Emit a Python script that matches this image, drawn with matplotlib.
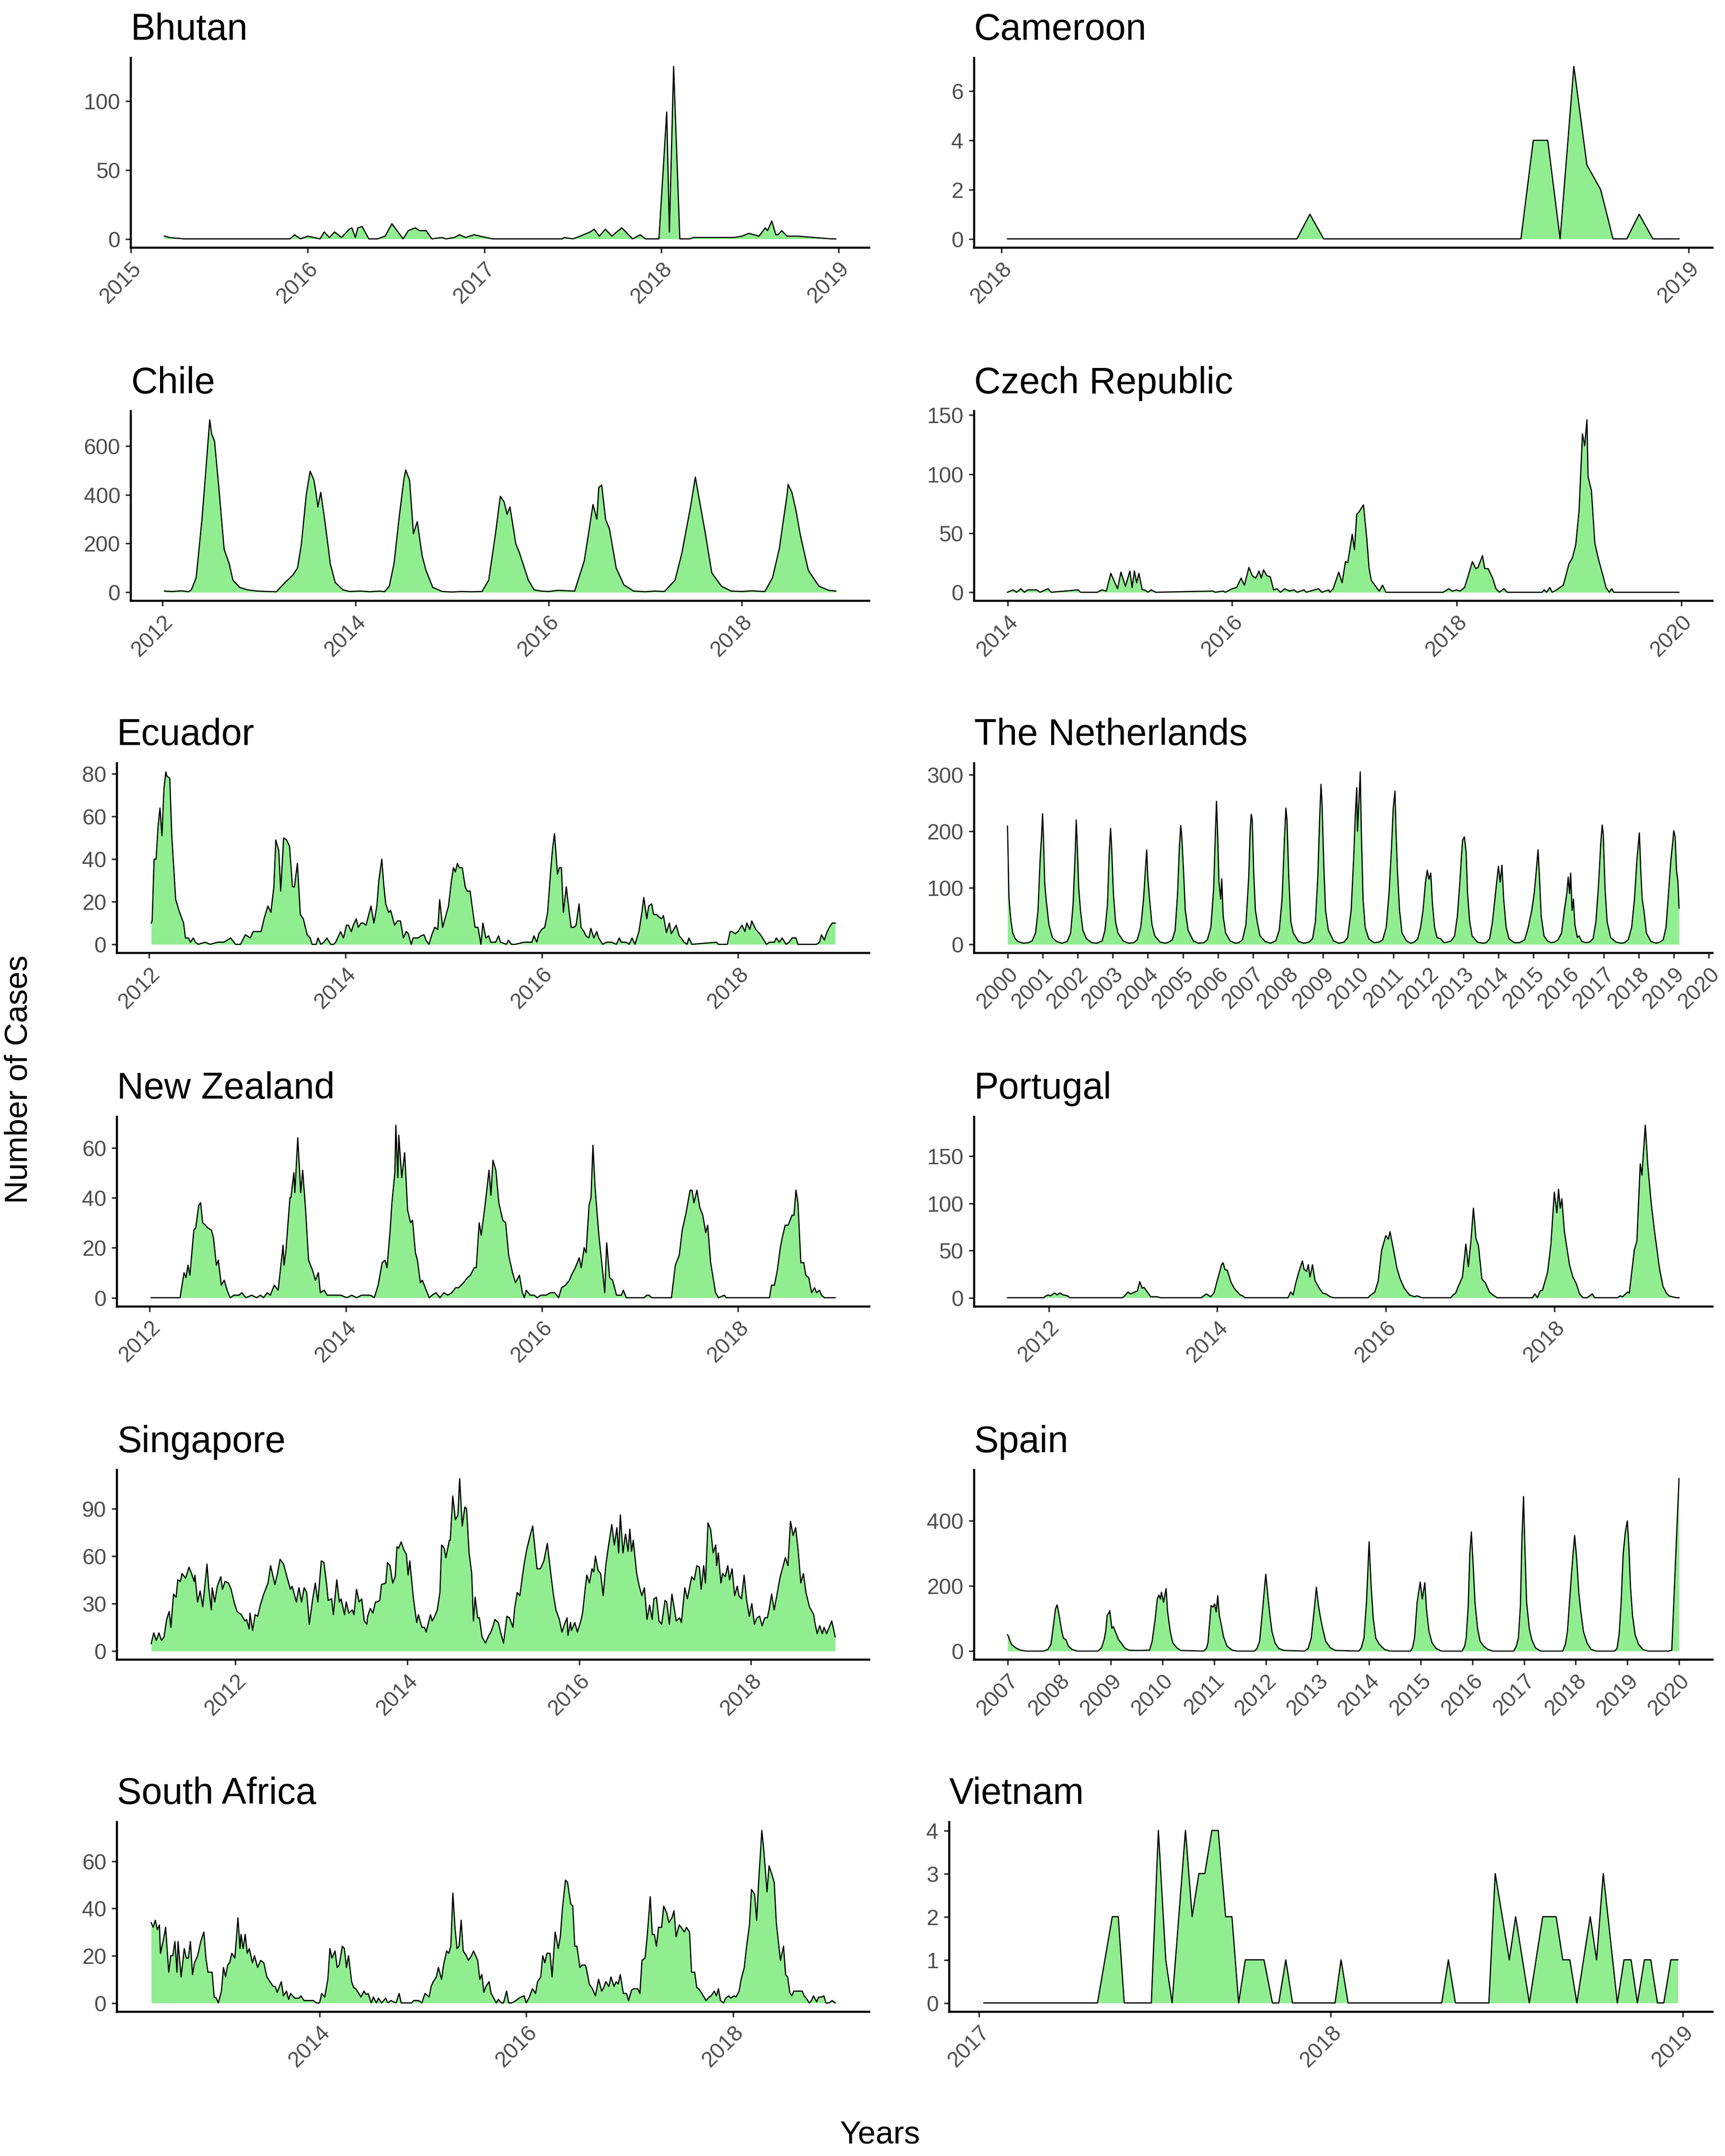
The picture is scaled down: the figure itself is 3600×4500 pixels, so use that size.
import numpy as np
import matplotlib.pyplot as plt

plt.rcParams['font.family'] = ['Liberation Sans', 'DejaVu Sans']

# weekly case counts, as (decimal year, cases)
bhutan = [(2015.19, 2), (2015.22, 1), (2015.3, 0), (2015.9, 0), (2015.926, 3), (2015.96, 0),
          (2016.0, 2), (2016.07, 0), (2016.094, 5), (2016.123, 1), (2016.152, 5), (2016.192, 1),
          (2016.235, 7), (2016.25, 8), (2016.27, 1), (2016.284, 8), (2016.308, 9), (2016.346, 0),
          (2016.395, 0), (2016.438, 2), (2016.476, 11), (2016.54, 0), (2016.569, 6), (2016.609, 8),
          (2016.632, 6), (2016.67, 6), (2016.702, 0), (2016.757, 1), (2016.783, 0), (2016.83, 1),
          (2016.858, 3), (2016.893, 1), (2016.94, 3), (2017.044, 0), (2017.32, 0), (2017.44, 0),
          (2017.45, 1), (2017.5, 0), (2017.54, 2), (2017.597, 5), (2017.62, 7), (2017.649, 2),
          (2017.683, 7), (2017.72, 2), (2017.747, 5), (2017.776, 8), (2017.837, 0), (2017.88, 3),
          (2017.91, 0), (2017.986, 0), (2018.03, 92), (2018.045, 5), (2018.069, 125), (2018.104, 0),
          (2018.16, 0), (2018.18, 1), (2018.41, 1), (2018.456, 2), (2018.494, 4), (2018.552, 2),
          (2018.587, 8), (2018.6, 6), (2018.624, 13), (2018.647, 3), (2018.66, 3), (2018.68, 6),
          (2018.71, 2), (2018.77, 2), (2018.96, 0), (2018.986, 0)]

cameroon = [(2018.009, 0), (2018.43, 0), (2018.449, 1), (2018.469, 0), (2018.756, 0), (2018.774, 4),
            (2018.795, 4), (2018.813, 0), (2018.833, 7), (2018.852, 3), (2018.872, 2), (2018.890, 0),
            (2018.910, 0), (2018.928, 1), (2018.948, 0), (2018.986, 0)]

chile = [(2012.02, 5), (2012.1, 3), (2012.2, 6), (2012.27, 2), (2012.30, 10), (2012.35, 60),
         (2012.41, 300), (2012.45, 500), (2012.49, 708), (2012.51, 650), (2012.54, 620), (2012.58, 450),
         (2012.64, 175), (2012.69, 120), (2012.73, 50), (2012.80, 20), (2012.88, 10), (2012.98, 5),
         (2013.08, 3), (2013.18, 2), (2013.27, 40), (2013.35, 70), (2013.40, 100), (2013.44, 200),
         (2013.49, 400), (2013.53, 497), (2013.57, 460), (2013.59, 410), (2013.61, 350), (2013.64, 410),
         (2013.68, 300), (2013.74, 115), (2013.79, 40), (2013.87, 10), (2013.94, 3), (2014.05, 5),
         (2014.15, 2), (2014.25, 5), (2014.30, 2), (2014.35, 25), (2014.40, 120), (2014.45, 300),
         (2014.50, 460), (2014.52, 502), (2014.56, 460), (2014.60, 240), (2014.64, 290), (2014.69, 150),
         (2014.73, 90), (2014.80, 20), (2014.90, 3), (2015.0, 1), (2015.1, 3), (2015.2, 2), (2015.31, 3),
         (2015.38, 50), (2015.45, 240), (2015.50, 394), (2015.54, 370), (2015.57, 320), (2015.60, 350),
         (2015.66, 200), (2015.70, 160), (2015.79, 50), (2015.85, 10), (2015.92, 5), (2016.0, 3),
         (2016.1, 8), (2016.2, 6), (2016.27, 5), (2016.37, 130), (2016.46, 360), (2016.50, 300),
         (2016.52, 430), (2016.55, 440), (2016.59, 300), (2016.63, 260), (2016.70, 100), (2016.78, 30),
         (2016.88, 5), (2017.0, 2), (2017.1, 5), (2017.20, 3), (2017.31, 50), (2017.38, 160),
         (2017.47, 350), (2017.52, 473), (2017.57, 360), (2017.62, 250), (2017.69, 80), (2017.79, 25),
         (2017.89, 5), (2018.0, 3), (2018.1, 6), (2018.24, 3), (2018.32, 60), (2018.39, 180),
         (2018.47, 400), (2018.48, 443), (2018.52, 410), (2018.56, 340), (2018.61, 230), (2018.69, 90),
         (2018.80, 25), (2018.9, 8), (2018.975, 5)]

czech = [(2014.0, 0), (2014.05, 2), (2014.08, 0), (2014.12, 3), (2014.15, 0), (2014.18, 2),
         (2014.24, 2), (2014.26, 2), (2014.29, 0), (2014.36, 3), (2014.39, 0), (2014.63, 2),
         (2014.65, 0), (2014.80, 0), (2014.84, 2), (2014.88, 1), (2014.92, 16), (2014.98, 3),
         (2015.01, 17), (2015.05, 5), (2015.09, 18), (2015.11, 4), (2015.13, 18), (2015.15, 8),
         (2015.17, 16), (2015.20, 2), (2015.22, 2), (2015.25, 0), (2015.28, 2), (2015.32, 0),
         (2015.83, 1), (2015.85, 0), (2015.92, 1), (2015.94, 0), (2016.0, 3), (2016.04, 4),
         (2016.08, 12), (2016.11, 6), (2016.15, 21), (2016.18, 14), (2016.21, 12), (2016.24, 18),
         (2016.26, 12), (2016.28, 19), (2016.31, 14), (2016.34, 13), (2016.37, 2), (2016.40, 3),
         (2016.43, 0), (2016.47, 3), (2016.51, 1), (2016.55, 2), (2016.58, 0), (2016.64, 2),
         (2016.66, 0), (2016.77, 3), (2016.80, 0), (2016.86, 2), (2016.87, 0), (2016.90, 3),
         (2016.95, 17), (2016.98, 8), (2017.01, 26), (2017.03, 25), (2017.07, 49), (2017.09, 36),
         (2017.11, 66), (2017.13, 68), (2017.17, 74), (2017.20, 45), (2017.22, 20), (2017.24, 10),
         (2017.31, 1), (2017.34, 6), (2017.37, 0), (2017.88, 0), (2017.93, 3), (2017.96, 1),
         (2018.0, 2), (2018.03, 1), (2018.07, 4), (2018.10, 13), (2018.14, 26), (2018.17, 20),
         (2018.19, 21), (2018.23, 31), (2018.25, 20), (2018.28, 20), (2018.32, 12), (2018.35, 3),
         (2018.38, 0), (2018.42, 3), (2018.45, 0), (2018.76, 0), (2018.78, 2), (2018.80, 0),
         (2018.83, 4), (2018.85, 0), (2018.89, 2), (2018.95, 6), (2019.0, 24), (2019.03, 29),
         (2019.06, 40), (2019.09, 69), (2019.12, 134), (2019.14, 124), (2019.16, 146), (2019.17, 98),
         (2019.20, 86), (2019.23, 42), (2019.26, 29), (2019.30, 15), (2019.33, 4), (2019.36, 0),
         (2019.38, 3), (2019.40, 0), (2019.98, 0)]

ecuador = [(2012.02, 10), (2012.03, 11), (2012.05, 40), (2012.07, 40), (2012.09, 55), (2012.11, 64),
           (2012.13, 51), (2012.15, 73), (2012.17, 81), (2012.18, 79), (2012.21, 78), (2012.23, 51),
           (2012.27, 21), (2012.31, 15), (2012.35, 10), (2012.37, 3), (2012.40, 3), (2012.42, 1),
           (2012.45, 3), (2012.47, 1), (2012.50, 0), (2012.57, 1), (2012.62, 0), (2012.70, 1),
           (2012.76, 1), (2012.83, 3), (2012.88, 0), (2012.93, 0), (2012.98, 4.5), (2013.03, 3),
           (2013.06, 6), (2013.10, 6), (2013.14, 6), (2013.17, 12), (2013.21, 18), (2013.24, 15),
           (2013.27, 27), (2013.29, 49), (2013.32, 44), (2013.34, 25), (2013.37, 50), (2013.40, 49),
           (2013.43, 46), (2013.46, 27), (2013.48, 27), (2013.51, 38), (2013.54, 14), (2013.57, 12),
           (2013.61, 4.5), (2013.64, 3), (2013.66, 0), (2013.70, 0), (2013.72, 3), (2013.75, 0),
           (2013.78, 1), (2013.81, 3), (2013.85, 0), (2013.88, 0), (2013.90, 1), (2013.95, 6),
           (2013.98, 3), (2014.01, 9), (2014.03, 9), (2014.06, 6), (2014.08, 9), (2014.11, 12),
           (2014.13, 8), (2014.16, 10), (2014.18, 10), (2014.21, 9), (2014.26, 18), (2014.29, 10),
           (2014.32, 18), (2014.34, 30), (2014.37, 40), (2014.39, 28), (2014.41, 19), (2014.44, 15),
           (2014.46, 16), (2014.50, 9), (2014.53, 11), (2014.56, 11), (2014.59, 3), (2014.62, 6),
           (2014.64, 5), (2014.67, 0), (2014.69, 3), (2014.74, 3), (2014.77, 4), (2014.80, 4.5),
           (2014.82, 2), (2014.85, 0), (2014.88, 4.5), (2014.91, 8), (2014.94, 7), (2014.96, 21),
           (2014.99, 8), (2015.02, 13), (2015.05, 18), (2015.08, 30), (2015.10, 36), (2015.12, 34),
           (2015.14, 38), (2015.16, 36), (2015.19, 36), (2015.22, 27), (2015.24, 25), (2015.27, 25),
           (2015.29, 18), (2015.32, 8), (2015.35, 8), (2015.38, 0), (2015.40, 10), (2015.43, 3),
           (2015.46, 4), (2015.48, 1), (2015.53, 1), (2015.56, 4), (2015.58, 1), (2015.64, 0),
           (2015.66, 2), (2015.69, 0), (2015.73, 0), (2015.82, 1), (2015.86, 1), (2015.90, 1),
           (2015.92, 4), (2015.95, 1), (2015.97, 5), (2016.00, 7), (2016.03, 8), (2016.06, 15),
           (2016.09, 34), (2016.11, 45), (2016.13, 52), (2016.16, 33), (2016.18, 36), (2016.20, 36),
           (2016.22, 15), (2016.25, 27), (2016.28, 15), (2016.30, 8), (2016.33, 8), (2016.35, 9),
           (2016.38, 19), (2016.40, 8), (2016.43, 6), (2016.45, 4), (2016.48, 3), (2016.50, 7.5),
           (2016.53, 3), (2016.56, 6), (2016.58, 3), (2016.62, 0), (2016.66, 1), (2016.71, 1),
           (2016.76, 0), (2016.79, 3), (2016.81, 1), (2016.86, 1), (2016.89, 0), (2016.92, 3),
           (2016.95, 0), (2016.99, 6), (2017.02, 15), (2017.04, 22), (2017.07, 12), (2017.09, 18),
           (2017.12, 19), (2017.14, 14), (2017.17, 14), (2017.19, 13), (2017.22, 12), (2017.24, 13.5),
           (2017.27, 5.5), (2017.30, 10), (2017.32, 5), (2017.37, 9), (2017.40, 4), (2017.42, 3),
           (2017.45, 1), (2017.48, 0), (2017.50, 3), (2017.53, 0), (2017.78, 1), (2017.80, 0),
           (2017.89, 0), (2017.92, 6), (2017.94, 6), (2017.97, 5), (2018.00, 6), (2018.04, 9),
           (2018.07, 6), (2018.09, 10), (2018.12, 7), (2018.14, 11), (2018.18, 7), (2018.22, 5),
           (2018.25, 3), (2018.29, 0), (2018.32, 1), (2018.37, 1), (2018.39, 3), (2018.42, 1),
           (2018.45, 3), (2018.49, 0), (2018.52, 1), (2018.55, 3), (2018.59, 3), (2018.61, 0),
           (2018.80, 0), (2018.83, 1), (2018.85, 4.5), (2018.88, 2), (2018.90, 5), (2018.93, 8),
           (2018.96, 10), (2018.99, 10)]

netherlands = [(2000.0, 209), (2000.02, 150), (2000.04, 85), (2000.07, 60), (2000.1, 40), (2000.15, 20),
               (2000.22, 10), (2000.3, 5), (2000.45, 2), (2000.6, 3), (2000.7, 6), (2000.8, 20),
               (2000.87, 60), (2000.93, 150), (2000.97, 190), (2001.0, 231), (2001.03, 180), (2001.06, 110),
               (2001.1, 80), (2001.18, 35), (2001.28, 12), (2001.4, 5), (2001.55, 2), (2001.7, 5),
               (2001.8, 20), (2001.87, 70), (2001.93, 160), (2001.96, 220), (2001.99, 175), (2002.03, 100),
               (2002.08, 60), (2002.15, 25), (2002.25, 10), (2002.4, 3), (2002.55, 2), (2002.7, 6),
               (2002.78, 25), (2002.85, 70), (2002.9, 160), (2002.94, 205), (2002.97, 170), (2003.02, 90),
               (2003.08, 40), (2003.15, 20), (2003.3, 6), (2003.45, 2), (2003.6, 3), (2003.7, 8),
               (2003.8, 30), (2003.88, 80), (2003.93, 130), (2003.97, 167), (2004.0, 120), (2004.05, 80),
               (2004.12, 35), (2004.2, 15), (2004.35, 4), (2004.5, 2), (2004.6, 4), (2004.7, 8),
               (2004.78, 25), (2004.85, 90), (2004.9, 170), (2004.94, 210), (2004.97, 190), (2005.02, 130),
               (2005.07, 60), (2005.15, 25), (2005.3, 6), (2005.45, 2), (2005.6, 3), (2005.7, 8),
               (2005.8, 30), (2005.88, 100), (2005.93, 200), (2005.96, 253), (2005.99, 200), (2006.03, 110),
               (2006.08, 80), (2006.11, 116), (2006.15, 50), (2006.22, 20), (2006.35, 6), (2006.5, 2),
               (2006.6, 3), (2006.7, 8), (2006.8, 35), (2006.88, 120), (2006.92, 200), (2006.95, 230),
               (2006.98, 220), (2007.02, 130), (2007.07, 60), (2007.12, 40), (2007.2, 15), (2007.35, 5),
               (2007.5, 2), (2007.65, 6), (2007.75, 25), (2007.83, 80), (2007.9, 190), (2007.94, 241),
               (2007.97, 220), (2008.02, 120), (2008.08, 40), (2008.15, 20), (2008.3, 5), (2008.45, 2),
               (2008.6, 4), (2008.7, 10), (2008.78, 40), (2008.85, 120), (2008.9, 220), (2008.94, 283),
               (2008.97, 250), (2009.02, 140), (2009.07, 60), (2009.15, 25), (2009.3, 6), (2009.45, 2),
               (2009.6, 4), (2009.7, 12), (2009.8, 60), (2009.87, 150), (2009.92, 230), (2009.96, 277),
               (2009.98, 200), (2010.02, 250), (2010.06, 305), (2010.09, 200), (2010.14, 80), (2010.2, 30),
               (2010.3, 10), (2010.45, 3), (2010.6, 4), (2010.7, 8), (2010.8, 30), (2010.88, 90),
               (2010.95, 170), (2011.0, 240), (2011.05, 271), (2011.08, 200), (2011.12, 130), (2011.18, 60),
               (2011.25, 20), (2011.38, 6), (2011.5, 2), (2011.6, 4), (2011.7, 10), (2011.78, 30),
               (2011.85, 60), (2011.92, 110), (2011.97, 131), (2012.02, 115), (2012.07, 126), (2012.12, 70),
               (2012.18, 30), (2012.25, 12), (2012.35, 10), (2012.45, 3), (2012.55, 4), (2012.65, 6),
               (2012.75, 15), (2012.83, 50), (2012.9, 110), (2012.95, 160), (2012.98, 184), (2013.03, 190),
               (2013.08, 162), (2013.12, 90), (2013.18, 40), (2013.25, 15), (2013.4, 4), (2013.55, 2),
               (2013.65, 3), (2013.75, 10), (2013.83, 40), (2013.9, 80), (2013.95, 110), (2014.0, 138),
               (2014.05, 110), (2014.1, 140), (2014.15, 80), (2014.22, 30), (2014.3, 10), (2014.45, 3),
               (2014.6, 3), (2014.75, 8), (2014.85, 30), (2014.95, 60), (2015.02, 90), (2015.08, 130),
               (2015.13, 167), (2015.17, 120), (2015.22, 50), (2015.3, 15), (2015.4, 6), (2015.5, 3),
               (2015.6, 4), (2015.7, 8), (2015.8, 20), (2015.88, 60), (2015.95, 90), (2015.99, 119),
               (2016.03, 90), (2016.06, 126), (2016.1, 60), (2016.14, 80), (2016.18, 35), (2016.25, 12),
               (2016.3, 15), (2016.38, 5), (2016.5, 3), (2016.6, 4), (2016.7, 10), (2016.78, 40),
               (2016.85, 100), (2016.92, 180), (2016.96, 211), (2016.99, 195), (2017.04, 100), (2017.1, 40),
               (2017.2, 12), (2017.35, 4), (2017.5, 2), (2017.6, 3), (2017.7, 8), (2017.8, 30),
               (2017.88, 80), (2017.95, 150), (2018.02, 197), (2018.06, 130), (2018.1, 80), (2018.15, 60),
               (2018.22, 20), (2018.35, 5), (2018.5, 2), (2018.6, 4), (2018.7, 8), (2018.78, 30),
               (2018.85, 90), (2018.92, 150), (2018.97, 180), (2019.0, 201), (2019.04, 190), (2019.08, 130),
               (2019.12, 110), (2019.15, 64)]

new_zealand = [(2012.015, 0), (2012.31, 0), (2012.35, 10), (2012.37, 8), (2012.39, 13), (2012.41, 9),
               (2012.45, 27), (2012.47, 28), (2012.50, 37), (2012.52, 38), (2012.54, 30), (2012.57, 29),
               (2012.59, 28), (2012.63, 27), (2012.65, 24), (2012.68, 13), (2012.70, 15), (2012.73, 5),
               (2012.76, 7), (2012.79, 3), (2012.82, 0), (2012.86, 1), (2012.91, 1), (2012.94, 2),
               (2012.98, 0), (2013.04, 1), (2013.09, 0), (2013.13, 1), (2013.16, 0), (2013.20, 2),
               (2013.23, 1), (2013.27, 5), (2013.31, 3), (2013.36, 21), (2013.37, 13), (2013.39, 19),
               (2013.43, 40), (2013.44, 40), (2013.47, 50), (2013.48, 42), (2013.51, 64), (2013.54, 42),
               (2013.56, 51), (2013.59, 35), (2013.62, 15), (2013.66, 11), (2013.69, 7), (2013.72, 10),
               (2013.74, 2), (2013.78, 3), (2013.81, 1), (2013.88, 1), (2013.95, 1), (2014.01, 0),
               (2014.06, 1), (2014.11, 0), (2014.16, 1), (2014.21, 1), (2014.25, 1), (2014.29, 0),
               (2014.33, 5), (2014.37, 14), (2014.40, 15), (2014.42, 12), (2014.45, 26), (2014.47, 38),
               (2014.50, 50), (2014.51, 69), (2014.53, 48), (2014.54, 65), (2014.57, 48), (2014.60, 58),
               (2014.63, 35), (2014.66, 30), (2014.68, 31), (2014.71, 18), (2014.73, 15), (2014.76, 6),
               (2014.78, 7), (2014.81, 4), (2014.85, 0), (2014.88, 1), (2014.92, 2), (2014.96, 0),
               (2015.0, 2), (2015.04, 1), (2015.08, 2), (2015.12, 4), (2015.15, 4), (2015.20, 6),
               (2015.24, 8), (2015.27, 9), (2015.31, 12), (2015.33, 12), (2015.36, 30), (2015.38, 25),
               (2015.42, 37), (2015.46, 51), (2015.48, 41), (2015.50, 55), (2015.53, 51), (2015.56, 38),
               (2015.60, 31), (2015.63, 30), (2015.66, 17), (2015.70, 10), (2015.73, 6), (2015.77, 9),
               (2015.80, 2), (2015.82, 0), (2015.84, 3), (2015.88, 1), (2015.92, 1), (2015.95, 0),
               (2015.99, 1), (2016.04, 1), (2016.09, 2), (2016.13, 2), (2016.17, 0), (2016.20, 4),
               (2016.24, 5), (2016.28, 7), (2016.30, 9), (2016.34, 12), (2016.38, 16), (2016.40, 12),
               (2016.43, 20), (2016.45, 18), (2016.48, 37), (2016.50, 40), (2016.52, 61), (2016.54, 45),
               (2016.58, 25), (2016.62, 10), (2016.64, 2), (2016.66, 22), (2016.69, 8), (2016.72, 7),
               (2016.76, 1), (2016.78, 1), (2016.81, 1), (2016.83, 3), (2016.86, 0), (2017.04, 0),
               (2017.07, 1), (2017.09, 1), (2017.12, 0), (2017.32, 0), (2017.36, 13), (2017.40, 17),
               (2017.43, 27), (2017.47, 34), (2017.51, 43), (2017.53, 43), (2017.55, 38), (2017.58, 43),
               (2017.61, 36), (2017.64, 33), (2017.67, 26), (2017.69, 29), (2017.72, 14), (2017.77, 2),
               (2017.80, 0), (2017.86, 1), (2017.88, 0), (2018.32, 0), (2018.34, 5), (2018.37, 5),
               (2018.40, 11), (2018.43, 20), (2018.45, 24), (2018.48, 29), (2018.51, 29), (2018.55, 33),
               (2018.57, 33), (2018.59, 43), (2018.61, 38), (2018.64, 14), (2018.67, 14), (2018.69, 9),
               (2018.72, 8), (2018.75, 2), (2018.78, 4), (2018.80, 2), (2018.83, 3), (2018.85, 1),
               (2018.88, 0), (2018.99, 0)]

portugal = [(2011.51, 0), (2011.94, 0), (2011.95, 1), (2011.99, 3), (2012.02, 2), (2012.07, 5),
            (2012.10, 3), (2012.13, 5), (2012.17, 3), (2012.22, 2), (2012.25, 0), (2012.87, 0),
            (2012.89, 1), (2012.94, 6), (2012.97, 4), (2013.02, 6), (2013.05, 7), (2013.08, 17),
            (2013.11, 10), (2013.13, 11), (2013.17, 6), (2013.21, 1), (2013.28, 1), (2013.33, 0),
            (2013.81, 0), (2013.87, 4), (2013.92, 1), (2013.96, 5), (2013.99, 15), (2014.02, 25),
            (2014.05, 35), (2014.07, 37), (2014.09, 30), (2014.12, 29), (2014.16, 17), (2014.20, 10),
            (2014.23, 7), (2014.27, 3), (2014.30, 2), (2014.33, 0), (2014.84, 0), (2014.87, 6),
            (2014.90, 3), (2014.93, 15), (2014.97, 28), (2015.01, 39), (2015.03, 30), (2015.06, 28),
            (2015.08, 35), (2015.10, 22), (2015.13, 35), (2015.16, 18), (2015.21, 10), (2015.25, 5),
            (2015.29, 4), (2015.34, 1), (2015.38, 0), (2015.79, 0), (2015.81, 2), (2015.87, 6),
            (2015.91, 18), (2015.95, 50), (2016.0, 66), (2016.03, 62), (2016.05, 70), (2016.10, 47),
            (2016.13, 32), (2016.17, 20), (2016.22, 10), (2016.28, 3), (2016.34, 1), (2016.37, 2),
            (2016.43, 0), (2016.77, 0), (2016.80, 3), (2016.83, 5), (2016.86, 12), (2016.91, 22),
            (2016.95, 57), (2016.98, 33), (2017.01, 60), (2017.04, 95), (2017.07, 63), (2017.10, 55),
            (2017.14, 20), (2017.18, 16), (2017.23, 6), (2017.27, 3), (2017.32, 0), (2017.74, 0),
            (2017.77, 4), (2017.80, 0), (2017.83, 7), (2017.86, 8), (2017.92, 27), (2017.96, 57),
            (2018.0, 112), (2018.03, 90), (2018.05, 115), (2018.07, 95), (2018.09, 105), (2018.12, 70),
            (2018.18, 35), (2018.22, 22), (2018.26, 15), (2018.30, 4), (2018.34, 0), (2018.39, 0),
            (2018.45, 4), (2018.48, 0), (2018.75, 0), (2018.78, 2), (2018.81, 1), (2018.87, 6),
            (2018.89, 5), (2018.95, 51), (2018.98, 60), (2019.02, 142), (2019.04, 130), (2019.08, 183),
            (2019.11, 140), (2019.15, 100), (2019.19, 70), (2019.25, 30), (2019.29, 12), (2019.33, 5),
            (2019.36, 2), (2019.40, 1), (2019.45, 0), (2019.48, 0)]

singapore = [(2011.02, 4.7), (2011.05, 11.5), (2011.08, 6.7), (2011.11, 11.5), (2011.14, 6.7), (2011.17, 9),
             (2011.20, 20), (2011.23, 25), (2011.25, 15), (2011.28, 36), (2011.31, 34), (2011.33, 45),
             (2011.36, 44), (2011.38, 49), (2011.42, 46), (2011.46, 53), (2011.49, 49), (2011.52, 44),
             (2011.53, 48), (2011.56, 31), (2011.59, 38), (2011.62, 28), (2011.67, 55), (2011.69, 40),
             (2011.72, 26), (2011.73, 40), (2011.76, 31), (2011.79, 41), (2011.83, 47), (2011.85, 39),
             (2011.88, 44), (2011.92, 43), (2011.95, 39), (2011.99, 30), (2012.02, 25), (2012.07, 23),
             (2012.11, 19), (2012.13, 20), (2012.16, 14), (2012.17, 24), (2012.20, 13), (2012.23, 23),
             (2012.26, 22), (2012.29, 29), (2012.33, 36), (2012.38, 43), (2012.41, 54), (2012.46, 42),
             (2012.49, 49), (2012.52, 58), (2012.56, 55), (2012.61, 45), (2012.64, 39), (2012.66, 41),
             (2012.71, 31), (2012.74, 40), (2012.77, 31), (2012.80, 40), (2012.83, 37), (2012.86, 17),
             (2012.90, 33), (2012.93, 43), (2012.96, 31), (2013.00, 57), (2013.03, 56), (2013.06, 43),
             (2013.08, 32), (2013.12, 33), (2013.14, 23), (2013.18, 45), (2013.21, 31), (2013.23, 33),
             (2013.27, 23), (2013.29, 31), (2013.32, 24), (2013.36, 26), (2013.38, 23), (2013.41, 39),
             (2013.44, 31), (2013.47, 33), (2013.50, 19), (2013.53, 17), (2013.54, 22), (2013.57, 27),
             (2013.60, 24), (2013.63, 31), (2013.65, 31), (2013.68, 32), (2013.70, 42), (2013.75, 43),
             (2013.77, 56), (2013.80, 54), (2013.83, 43), (2013.86, 47), (2013.88, 66), (2013.90, 65),
             (2013.93, 69), (2013.96, 64), (2013.99, 61), (2014.01, 48), (2014.03, 57), (2014.07, 34),
             (2014.11, 18), (2014.13, 23), (2014.17, 15), (2014.20, 15), (2014.22, 12), (2014.27, 23),
             (2014.29, 19), (2014.32, 22), (2014.35, 26), (2014.38, 37), (2014.40, 67), (2014.43, 65),
             (2014.45, 59), (2014.49, 70), (2014.50, 70), (2014.53, 98), (2014.56, 83), (2014.59, 86),
             (2014.61, 109), (2014.64, 79), (2014.67, 91), (2014.69, 90), (2014.72, 62), (2014.75, 49),
             (2014.77, 19), (2014.79, 34), (2014.82, 21), (2014.84, 21), (2014.87, 9), (2014.91, 5),
             (2014.95, 10), (2014.97, 11.5), (2015.00, 16), (2015.02, 20), (2015.06, 18), (2015.09, 11),
             (2015.12, 5), (2015.16, 22), (2015.19, 21), (2015.23, 15), (2015.25, 27), (2015.28, 37),
             (2015.31, 35), (2015.36, 55), (2015.39, 64), (2015.43, 73), (2015.46, 79), (2015.51, 52),
             (2015.55, 52), (2015.59, 57), (2015.63, 68), (2015.67, 49), (2015.70, 36), (2015.73, 26),
             (2015.77, 20), (2015.80, 12), (2015.83, 17), (2015.86, 21), (2015.87, 10), (2015.90, 18),
             (2015.91, 13), (2015.95, 18), (2015.98, 12), (2016.02, 19), (2016.04, 24), (2016.07, 39),
             (2016.09, 48), (2016.12, 43), (2016.15, 52), (2016.17, 50), (2016.19, 60), (2016.22, 51),
             (2016.25, 49), (2016.28, 35), (2016.31, 54), (2016.33, 62), (2016.38, 80), (2016.41, 67),
             (2016.44, 78), (2016.46, 62), (2016.48, 86), (2016.51, 62), (2016.54, 74), (2016.57, 63),
             (2016.59, 77), (2016.61, 63), (2016.63, 70), (2016.67, 49), (2016.70, 41), (2016.73, 35),
             (2016.76, 40), (2016.79, 20), (2016.82, 29), (2016.85, 20), (2016.87, 33), (2016.90, 34),
             (2016.93, 19), (2016.96, 17), (2017.00, 32), (2017.02, 31), (2017.05, 17), (2017.08, 36),
             (2017.13, 19), (2017.17, 21), (2017.19, 18), (2017.23, 40), (2017.26, 33), (2017.31, 47),
             (2017.34, 45), (2017.37, 54), (2017.40, 53), (2017.42, 39), (2017.45, 54), (2017.47, 43),
             (2017.50, 81), (2017.53, 77), (2017.56, 62), (2017.59, 67), (2017.60, 54), (2017.62, 62),
             (2017.65, 43), (2017.67, 49), (2017.70, 47), (2017.73, 54), (2017.75, 45), (2017.78, 52),
             (2017.81, 35), (2017.84, 41), (2017.86, 35), (2017.89, 33), (2017.92, 48), (2017.95, 32),
             (2017.98, 22), (2018.01, 30), (2018.04, 17), (2018.07, 21), (2018.10, 22), (2018.13, 16),
             (2018.16, 21), (2018.19, 21), (2018.21, 26), (2018.24, 36), (2018.27, 26), (2018.30, 35),
             (2018.34, 47), (2018.37, 53), (2018.40, 59), (2018.43, 54), (2018.46, 82), (2018.49, 73),
             (2018.52, 78), (2018.55, 63), (2018.58, 43), (2018.61, 49), (2018.64, 37), (2018.68, 28),
             (2018.73, 23), (2018.74, 19), (2018.77, 11), (2018.80, 16), (2018.83, 11), (2018.85, 15),
             (2018.88, 11), (2018.91, 15), (2018.94, 19), (2018.98, 9)]

spain = [(2007.0, 50), (2007.02, 45), (2007.05, 30), (2007.08, 20), (2007.12, 15), (2007.18, 8),
         (2007.25, 3), (2007.35, 0), (2007.7, 0), (2007.78, 5), (2007.84, 20), (2007.89, 80),
         (2007.93, 130), (2007.96, 142), (2008.0, 110), (2008.04, 70), (2008.08, 40), (2008.13, 35),
         (2008.18, 15), (2008.25, 5), (2008.35, 0), (2008.75, 0), (2008.82, 10), (2008.87, 35),
         (2008.9, 60), (2008.93, 110), (2008.96, 116), (2008.98, 124), (2009.02, 70), (2009.05, 75),
         (2009.1, 55), (2009.15, 35), (2009.2, 25), (2009.28, 8), (2009.35, 3), (2009.45, 2),
         (2009.6, 2), (2009.75, 3), (2009.8, 30), (2009.86, 100), (2009.9, 160), (2009.93, 172),
         (2009.96, 160), (2009.98, 181), (2010.02, 150), (2010.07, 192), (2010.1, 120), (2010.15, 60),
         (2010.2, 25), (2010.28, 10), (2010.35, 2), (2010.8, 0), (2010.85, 8), (2010.88, 25),
         (2010.92, 100), (2010.94, 140), (2010.98, 135), (2011.01, 145), (2011.04, 120), (2011.07, 170),
         (2011.1, 110), (2011.14, 80), (2011.18, 45), (2011.25, 15), (2011.35, 3), (2011.45, 0),
         (2011.78, 0), (2011.83, 8), (2011.88, 30), (2011.94, 130), (2012.0, 236), (2012.04, 170),
         (2012.08, 110), (2012.12, 60), (2012.18, 25), (2012.25, 8), (2012.35, 2), (2012.75, 0),
         (2012.82, 8), (2012.88, 40), (2012.94, 130), (2012.98, 196), (2013.02, 140), (2013.05, 110),
         (2013.1, 70), (2013.16, 30), (2013.25, 10), (2013.35, 2), (2013.8, 0), (2013.85, 10),
         (2013.9, 40), (2013.95, 150), (2014.0, 336), (2014.04, 200), (2014.08, 100), (2014.13, 40),
         (2014.2, 20), (2014.3, 5), (2014.4, 0), (2014.8, 0), (2014.84, 10), (2014.88, 40),
         (2014.93, 150), (2014.99, 212), (2015.03, 160), (2015.08, 210), (2015.11, 130), (2015.16, 60),
         (2015.22, 25), (2015.3, 8), (2015.4, 0), (2015.8, 0), (2015.85, 15), (2015.88, 40),
         (2015.92, 140), (2015.95, 300), (2015.98, 366), (2016.02, 250), (2016.05, 150), (2016.1, 70),
         (2016.15, 30), (2016.22, 15), (2016.3, 5), (2016.4, 0), (2016.8, 0), (2016.85, 15),
         (2016.89, 40), (2016.93, 140), (2016.96, 350), (2016.99, 475), (2017.02, 300), (2017.05, 150),
         (2017.1, 70), (2017.15, 35), (2017.22, 10), (2017.32, 0), (2017.75, 0), (2017.8, 20),
         (2017.84, 60), (2017.88, 150), (2017.92, 240), (2017.95, 300), (2017.98, 355), (2018.02, 280),
         (2018.06, 180), (2018.1, 120), (2018.15, 60), (2018.22, 25), (2018.3, 5), (2018.4, 0),
         (2018.75, 0), (2018.8, 8), (2018.84, 50), (2018.88, 150), (2018.92, 300), (2018.96, 365),
         (2019.0, 400), (2019.03, 320), (2019.06, 200), (2019.1, 110), (2019.15, 50), (2019.22, 20),
         (2019.3, 5), (2019.4, 0), (2019.8, 0), (2019.86, 3), (2020.0, 530)]

south_africa = [(2012.37, 34), (2012.39, 32), (2012.41, 35), (2012.43, 31), (2012.45, 33), (2012.46, 21),
                (2012.49, 27), (2012.51, 32), (2012.54, 13), (2012.56, 20), (2012.58, 20), (2012.60, 26),
                (2012.62, 13), (2012.63, 26), (2012.66, 11), (2012.69, 23), (2012.71, 19), (2012.73, 19),
                (2012.75, 26), (2012.77, 12), (2012.79, 17), (2012.82, 20), (2012.85, 26), (2012.88, 30),
                (2012.90, 19), (2012.92, 13), (2012.96, 13), (2012.98, 2.5), (2013.00, 2), (2013.02, 0),
                (2013.05, 5), (2013.07, 15), (2013.09, 11), (2013.11, 16), (2013.13, 17), (2013.15, 21),
                (2013.18, 19), (2013.21, 36), (2013.23, 23), (2013.24, 29), (2013.26, 23), (2013.28, 29),
                (2013.30, 21), (2013.32, 23), (2013.35, 17), (2013.37, 20), (2013.40, 15), (2013.43, 18),
                (2013.46, 17), (2013.49, 11), (2013.52, 9), (2013.55, 7), (2013.57, 7), (2013.59, 4.5),
                (2013.63, 9), (2013.65, 3), (2013.68, 5), (2013.70, 1.5), (2013.72, 4), (2013.76, 2),
                (2013.80, 2), (2013.82, 3), (2013.85, 1), (2013.89, 1), (2013.94, 1), (2013.97, 0),
                (2014.00, 0), (2014.02, 4), (2014.05, 2.5), (2014.08, 10), (2014.10, 23), (2014.12, 19),
                (2014.15, 22), (2014.17, 15), (2014.19, 16), (2014.22, 24), (2014.24, 23), (2014.26, 15),
                (2014.28, 20), (2014.31, 9), (2014.33, 6.5), (2014.35, 6), (2014.38, 4), (2014.40, 2.5),
                (2014.43, 5), (2014.45, 3.5), (2014.47, 4), (2014.50, 0), (2014.52, 2.5), (2014.55, 0),
                (2014.57, 2), (2014.60, 0), (2014.64, 2), (2014.66, 0), (2014.69, 1), (2014.74, 0),
                (2014.77, 4), (2014.79, 0), (2014.89, 0), (2014.91, 1), (2014.96, 1), (2014.99, 0),
                (2015.02, 4), (2015.06, 2.5), (2015.08, 7), (2015.10, 9), (2015.13, 11), (2015.15, 15),
                (2015.18, 10), (2015.20, 16), (2015.23, 22), (2015.25, 21), (2015.27, 24), (2015.29, 46.5),
                (2015.31, 32), (2015.33, 23), (2015.35, 24), (2015.37, 35), (2015.39, 22), (2015.42, 20),
                (2015.44, 18), (2015.47, 20), (2015.49, 22), (2015.53, 18), (2015.55, 10), (2015.57, 12),
                (2015.59, 4.5), (2015.61, 7), (2015.64, 9), (2015.66, 4), (2015.68, 2.5), (2015.71, 0),
                (2015.73, 1.5), (2015.76, 0), (2015.78, 0), (2015.81, 5), (2015.83, 0), (2015.86, 0),
                (2015.90, 1), (2015.93, 2), (2015.95, 2.5), (2015.98, 3), (2016.00, 0), (2016.03, 2.5),
                (2016.06, 6), (2016.09, 4), (2016.11, 9), (2016.14, 11), (2016.16, 20), (2016.18, 17),
                (2016.20, 21), (2016.23, 21), (2016.25, 11), (2016.28, 30), (2016.31, 23), (2016.33, 28),
                (2016.35, 40), (2016.38, 52), (2016.40, 51), (2016.43, 42), (2016.45, 41), (2016.47, 24),
                (2016.49, 24), (2016.52, 15), (2016.54, 16), (2016.57, 16), (2016.58, 15), (2016.61, 8),
                (2016.64, 6), (2016.67, 3), (2016.70, 10), (2016.73, 5), (2016.75, 6.5), (2016.77, 9),
                (2016.80, 7), (2016.82, 11), (2016.85, 7), (2016.87, 9), (2016.89, 8), (2016.91, 12),
                (2016.94, 4), (2016.97, 4), (2016.99, 1), (2017.02, 5.5), (2017.04, 6), (2017.08, 6),
                (2017.10, 4), (2017.12, 18), (2017.15, 19), (2017.17, 28), (2017.20, 45), (2017.22, 29),
                (2017.24, 29), (2017.26, 24), (2017.28, 32), (2017.31, 32), (2017.33, 41), (2017.36, 38),
                (2017.38, 34), (2017.41, 36), (2017.43, 39), (2017.45, 28), (2017.48, 33), (2017.50, 32),
                (2017.53, 30), (2017.55, 32), (2017.58, 30), (2017.60, 13), (2017.63, 13), (2017.65, 6.5),
                (2017.67, 6), (2017.70, 4), (2017.72, 2.5), (2017.74, 1), (2017.77, 2.5), (2017.79, 3),
                (2017.82, 5), (2017.84, 3), (2017.86, 6), (2017.88, 1), (2017.91, 0), (2017.93, 2),
                (2017.96, 3), (2017.98, 2), (2018.01, 3), (2018.03, 2.5), (2018.06, 5), (2018.08, 10),
                (2018.11, 15), (2018.13, 23), (2018.16, 33), (2018.18, 48), (2018.21, 46), (2018.23, 35),
                (2018.25, 52), (2018.28, 73), (2018.30, 64), (2018.33, 47), (2018.35, 58), (2018.38, 54),
                (2018.40, 51), (2018.42, 34), (2018.46, 18), (2018.49, 24), (2018.51, 12), (2018.53, 11),
                (2018.55, 4.5), (2018.57, 3), (2018.59, 5), (2018.62, 5), (2018.67, 5), (2018.69, 3),
                (2018.71, 2), (2018.74, 0), (2018.76, 1), (2018.78, 3), (2018.81, 0.5), (2018.83, 2.5),
                (2018.86, 2.5), (2018.88, 3), (2018.90, 0), (2018.93, 0), (2018.96, 1), (2018.99, 0)]

vietnam = [(2017.014, 0), (2017.337, 0), (2017.379, 2), (2017.396, 2), (2017.413, 0), (2017.49, 0),
           (2017.510, 4), (2017.531, 1), (2017.549, 0), (2017.568, 2), (2017.587, 4), (2017.606, 2),
           (2017.625, 3), (2017.642, 3), (2017.662, 4), (2017.680, 4), (2017.701, 2), (2017.719, 2),
           (2017.738, 0), (2017.757, 1), (2017.81, 1), (2017.834, 0), (2017.852, 0), (2017.872, 1),
           (2017.891, 0), (2018.012, 0), (2018.029, 1), (2018.049, 0), (2018.315, 0), (2018.334, 1),
           (2018.354, 0), (2018.449, 0), (2018.467, 3), (2018.507, 1), (2018.525, 2), (2018.564, 0),
           (2018.602, 2), (2018.64, 2), (2018.659, 1), (2018.679, 1), (2018.699, 0), (2018.737, 2),
           (2018.755, 1), (2018.774, 3), (2018.814, 0), (2018.833, 1), (2018.853, 1), (2018.871, 0),
           (2018.891, 1), (2018.909, 1), (2018.928, 0), (2018.946, 0), (2018.966, 1), (2018.986, 1)]

# tick positions per panel
bhutan_xticks = [2015, 2016, 2017, 2018, 2019]
cameroon_xticks = [2018, 2019]
chile_xticks = [2012, 2014, 2016, 2018]
czech_xticks = [2014, 2016, 2018, 2020]
ecuador_xticks = [2012, 2014, 2016, 2018]
netherlands_xticks = list(range(2000, 2021))
new_zealand_xticks = [2012, 2014, 2016, 2018]
portugal_xticks = [2012, 2014, 2016, 2018]
singapore_xticks = [2012, 2014, 2016, 2018]
spain_xticks = list(range(2007, 2021))
south_africa_xticks = [2014, 2016, 2018]
vietnam_xticks = [2017, 2018, 2019]

# panel layout, fractions of the figure
ROW_BOTTOMS = [0.8852, 0.7213, 0.5580, 0.3941, 0.2302, 0.0670]
PANEL_H = 0.0880


def draw_panel(fig, left, width, bottom, title, points, xticks, yticks):
    years = np.array([p[0] for p in points])
    cases = np.array([p[1] for p in points])
    ax = fig.add_axes([left, bottom, width, PANEL_H])
    ax.fill_between(years, 0, cases, color='#90EE90', linewidth=0)
    ax.plot(years, cases, color='black', linewidth=0.6)

    # 5% expansion on both sides, like the original
    xpad = 0.05 * (years.max() - years.min())
    ax.set_xlim(years.min() - xpad, years.max() + xpad)
    ypad = 0.05 * cases.max()
    ax.set_ylim(-ypad, cases.max() + ypad)

    ax.set_xticks(xticks)
    ax.set_xticklabels([str(t) for t in xticks], rotation=45, ha='right', va='top',
                       rotation_mode='anchor')
    ax.set_yticks(yticks)
    ax.set_yticklabels([str(t) for t in yticks])

    for side in ['top', 'right']:
        ax.spines[side].set_visible(False)
    for side in ['left', 'bottom']:
        ax.spines[side].set_linewidth(1.07)
        ax.spines[side].set_color('black')
    ax.tick_params(direction='out', length=2.75, width=0.8, color='#333333',
                   labelsize=11, labelcolor='#4D4D4D', pad=2.5)
    ax.set_title(title, loc='left', fontsize=18.5, pad=9)
    return ax


fig = plt.figure(figsize=(12, 15), dpi=300)

draw_panel(fig, 0.0758, 0.4282, ROW_BOTTOMS[0], 'Bhutan', bhutan, bhutan_xticks, [0, 50, 100])
draw_panel(fig, 0.5646, 0.4282, ROW_BOTTOMS[0], 'Cameroon', cameroon, cameroon_xticks, [0, 2, 4, 6])
draw_panel(fig, 0.0758, 0.4282, ROW_BOTTOMS[1], 'Chile', chile, chile_xticks, [0, 200, 400, 600])
draw_panel(fig, 0.5646, 0.4282, ROW_BOTTOMS[1], 'Czech Republic', czech, czech_xticks, [0, 50, 100, 150])
draw_panel(fig, 0.0678, 0.4362, ROW_BOTTOMS[2], 'Ecuador', ecuador, ecuador_xticks, [0, 20, 40, 60, 80])
draw_panel(fig, 0.5646, 0.4282, ROW_BOTTOMS[2], 'The Netherlands', netherlands, netherlands_xticks,
           [0, 100, 200, 300])
draw_panel(fig, 0.0678, 0.4362, ROW_BOTTOMS[3], 'New Zealand', new_zealand, new_zealand_xticks,
           [0, 20, 40, 60])
draw_panel(fig, 0.5646, 0.4282, ROW_BOTTOMS[3], 'Portugal', portugal, portugal_xticks, [0, 50, 100, 150])
draw_panel(fig, 0.0678, 0.4362, ROW_BOTTOMS[4], 'Singapore', singapore, singapore_xticks, [0, 30, 60, 90])
draw_panel(fig, 0.5646, 0.4282, ROW_BOTTOMS[4], 'Spain', spain, spain_xticks, [0, 200, 400])
draw_panel(fig, 0.0678, 0.4362, ROW_BOTTOMS[5], 'South Africa', south_africa, south_africa_xticks,
           [0, 20, 40, 60])
draw_panel(fig, 0.5502, 0.4426, ROW_BOTTOMS[5], 'Vietnam', vietnam, vietnam_xticks, [0, 1, 2, 3, 4])

fig.text(0.011, 0.4994, 'Number of Cases', rotation=90, ha='center', va='center', fontsize=16)
fig.text(0.510, 0.0096, 'Years', ha='center', va='center', fontsize=16)

fig.savefig('out.png', dpi=300)
